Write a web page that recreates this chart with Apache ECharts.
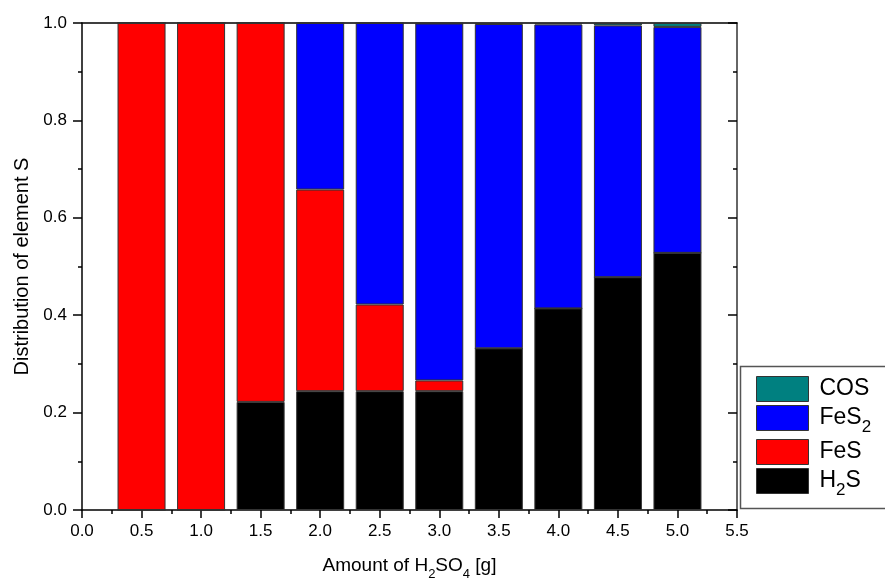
<!DOCTYPE html>
<html>
<head>
<meta charset="utf-8">
<script src="https://cdn.jsdelivr.net/npm/echarts@6/dist/echarts.min.js"></script>
<style>
html,body{margin:0;padding:0;background:#fff;}
#chart{width:885px;height:588px;}
</style>
</head>
<body>
<div id="chart"></div>
<script>
// Data
const xValues = [0.5, 1.0, 1.5, 2.0, 2.5, 3.0, 3.5, 4.0, 4.5, 5.0];
const h2s  = [0, 0, 0.222, 0.244, 0.244, 0.244, 0.332, 0.414, 0.478, 0.528];
const fes  = [1.0, 1.0, 0.778, 0.414, 0.178, 0.022, 0, 0, 0, 0];
const fes2 = [0, 0, 0, 0.342, 0.578, 0.733, 0.666, 0.583, 0.517, 0.464];
const cos  = [0, 0, 0, 0, 0, 0.001, 0.002, 0.003, 0.005, 0.008];
const seriesNames = ['H2S', 'FeS', 'FeS2', 'COS'];
const legendOrder = ['COS', 'FeS2', 'FeS', 'H2S'];
const legendLabels = {
  'COS': '{f|COS}',
  'FeS2': '{f|FeS}{s|2}',
  'FeS': '{f|FeS}',
  'H2S': '{f|H}{s|2}{n|S}'
};
const xTitle = '{n|Amount of H}{s|2}{n|SO}{s|4}{n| [g]}';
const yTitle = 'Distribution of element S';

const FONT = 'Liberation Sans, Arial, sans-serif';
const colors = {H2S: '#000000', FeS: '#ff0000', FeS2: '#0000ff', COS: '#008080'};
const seriesData = {H2S: h2s, FeS: fes, FeS2: fes2, COS: cos};

const chart = echarts.init(document.getElementById('chart'), null, {renderer: 'canvas'});

// value first so that the stacked dimension is the y value
const series = seriesNames.map(name => ({
  name: name,
  type: 'bar',
  stack: 'total',
  xAxisIndex: 0,
  yAxisIndex: 0,
  barWidth: 48,
  encode: {x: 1, y: 0},
  data: xValues.map((x, i) => [seriesData[name][i], x]),
  itemStyle: {color: colors[name], borderColor: '#333', borderWidth: 1},
  emphasis: {disabled: true},
  animation: false
}));

const option = {
  animation: false,
  backgroundColor: '#ffffff',
  grid: {left: 82, right: 148, top: 23, bottom: 78, containLabel: false},
  xAxis: [{
    type: 'value', position: 'bottom', min: 0, max: 5.5, interval: 0.5,
    axisLine: {show: true, onZero: false, lineStyle: {color: '#000', width: 1.5}},
    axisTick: {show: true, inside: false, length: 8, lineStyle: {color: '#000', width: 1.5}},
    minorTick: {show: true, splitNumber: 2, length: 4, lineStyle: {color: '#000', width: 1.5}},
    splitLine: {show: false},
    axisLabel: {show: true, margin: 13, fontFamily: FONT, fontSize: 17, color: '#000',
      formatter: v => v.toFixed(1)},
    name: xTitle, nameLocation: 'middle', nameGap: 41,
    nameTextStyle: {
      fontFamily: FONT, color: '#000',
      rich: {
        n: {fontFamily: FONT, fontSize: 19, color: '#000', lineHeight: 30, verticalAlign: 'middle'},
        s: {fontFamily: FONT, fontSize: 13, color: '#000', lineHeight: 6, verticalAlign: 'bottom'}
      }
    }
  }, {
    type: 'value', position: 'top', min: 0, max: 5.5, interval: 0.5,
    axisLine: {show: true, onZero: false, lineStyle: {color: '#000', width: 1.5}},
    axisTick: {show: false}, axisLabel: {show: false}, splitLine: {show: false}
  }],
  yAxis: [{
    type: 'value', position: 'left', min: 0, max: 1, interval: 0.2,
    axisLine: {show: true, onZero: false, lineStyle: {color: '#000', width: 1.5}},
    axisTick: {show: true, inside: false, length: 9, lineStyle: {color: '#000', width: 1.5}},
    minorTick: {show: true, splitNumber: 2, length: 4, lineStyle: {color: '#000', width: 1.5}},
    splitLine: {show: false},
    axisLabel: {show: true, margin: 15, fontFamily: FONT, fontSize: 17, color: '#000',
      formatter: v => v.toFixed(1)},
    name: yTitle, nameLocation: 'middle', nameGap: 50,
    nameTextStyle: {fontFamily: FONT, fontSize: 20, color: '#000'}
  }, {
    type: 'value', position: 'right', min: 0, max: 1, interval: 0.2,
    axisLine: {show: true, onZero: false, lineStyle: {color: '#333', width: 1.5}},
    axisTick: {show: true, inside: true, length: 9, lineStyle: {color: '#000', width: 1.5}},
    minorTick: {show: true, splitNumber: 2, length: 4, lineStyle: {color: '#000', width: 1.5}},
    splitLine: {show: false}, axisLabel: {show: false}
  }],
  legend: {
    show: true,
    orient: 'vertical',
    left: 756, top: 376,
    padding: 0,
    itemWidth: 52, itemHeight: 25, itemGap: 3,
    icon: 'rect',
    selectedMode: false,
    data: legendOrder.map(n => ({name: n, itemStyle: {color: colors[n], borderColor: '#333', borderWidth: 1}})),
    formatter: name => legendLabels[name],
    textStyle: {
      fontFamily: FONT, color: '#000',
      rich: {
        f: {fontFamily: FONT, fontSize: 23, color: '#000', lineHeight: 36, verticalAlign: 'middle', padding: [0, 0, 0, 6]},
        n: {fontFamily: FONT, fontSize: 23, color: '#000', lineHeight: 36, verticalAlign: 'middle'},
        s: {fontFamily: FONT, fontSize: 17, color: '#000', lineHeight: 6, verticalAlign: 'bottom'}
      }
    }
  },
  graphic: [{
    type: 'rect', silent: true, z: 0,
    shape: {x: 740.5, y: 366.5, width: 200, height: 142},
    style: {fill: 'none', stroke: '#555', lineWidth: 1.5}
  }],
  series: series
};

chart.setOption(option);
</script>
</body>
</html>
